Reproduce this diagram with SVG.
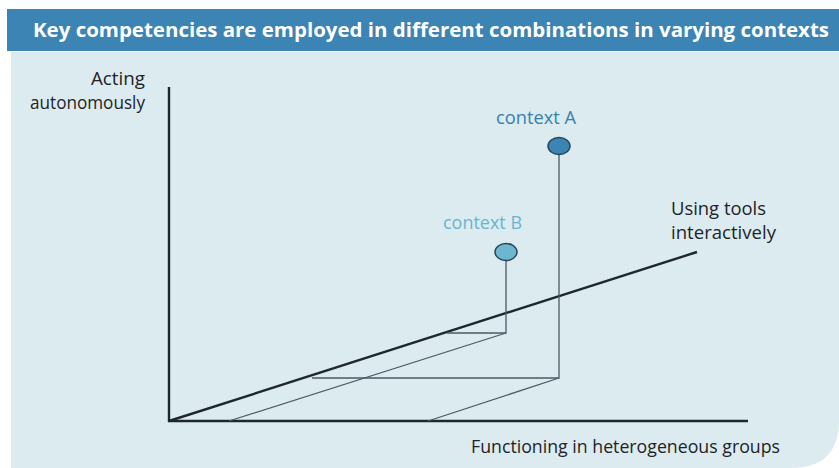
<svg xmlns="http://www.w3.org/2000/svg" width="839" height="468" viewBox="0 0 839 468">
<style>
.lbl{font-family:"Open Sans","Liberation Sans",sans-serif;font-size:17.5px;fill:#1e2328}
.ctx{font-family:"Open Sans","Liberation Sans",sans-serif;font-size:17.5px}
.thin{stroke:#4a5a66;stroke-width:1.3;fill:none}
.axis{stroke:#1e262e;stroke-width:2.4;fill:none}
</style>
<rect width="839" height="468" fill="#ffffff"/>
<path d="M11 52 H839 V420 Q839 468 791 468 H11 Z" fill="#dcebf0"/>
<rect x="7" y="9" width="832" height="42" fill="#3b84b3"/>
<text x="33" y="37" font-family="'Open Sans','Liberation Sans',sans-serif" font-size="19" font-weight="bold" fill="#ffffff" textLength="796" lengthAdjust="spacingAndGlyphs">Key competencies are employed in different combinations in varying contexts</text>
<g id="connectors">
<line class="axis" x1="169" y1="87" x2="169" y2="422"/>
<line class="axis" x1="168" y1="421" x2="748" y2="421"/>
<line class="axis" x1="169" y1="421" x2="697" y2="252"/>
<polyline class="thin" points="559,155 559,378 312,378"/>
<line class="thin" x1="559" y1="378" x2="428" y2="421"/>
<polyline class="thin" points="506,261 506,333 447,333"/>
<line class="thin" x1="506" y1="333" x2="229" y2="421"/>
</g>
<g id="axis-acting">
<text class="lbl" x="91" y="85" textLength="54" lengthAdjust="spacingAndGlyphs">Acting</text>
<text class="lbl" x="30" y="109" textLength="115" lengthAdjust="spacingAndGlyphs">autonomously</text>
</g>
<g id="axis-tools">
<text class="lbl" x="671" y="215" textLength="95" lengthAdjust="spacingAndGlyphs">Using tools</text>
<text class="lbl" x="671" y="239" textLength="105" lengthAdjust="spacingAndGlyphs">interactively</text>
</g>
<g id="axis-groups">
<text class="lbl" x="471" y="453" textLength="309" lengthAdjust="spacingAndGlyphs">Functioning in heterogeneous groups</text>
</g>
<g id="contextA">
<ellipse cx="559" cy="146" rx="11" ry="8.5" fill="#3b84b3" stroke="#2a4658" stroke-width="1.5"/>
<text class="ctx" x="496" y="124" textLength="80" lengthAdjust="spacingAndGlyphs" fill="#3a7fae">context A</text>
</g>
<g id="contextB">
<ellipse cx="506" cy="252" rx="11" ry="8.5" fill="#6db6d0" stroke="#2a4658" stroke-width="1.5"/>
<text class="ctx" x="443" y="229" textLength="79" lengthAdjust="spacingAndGlyphs" fill="#6ab5cd">context B</text>
</g>
</svg>
